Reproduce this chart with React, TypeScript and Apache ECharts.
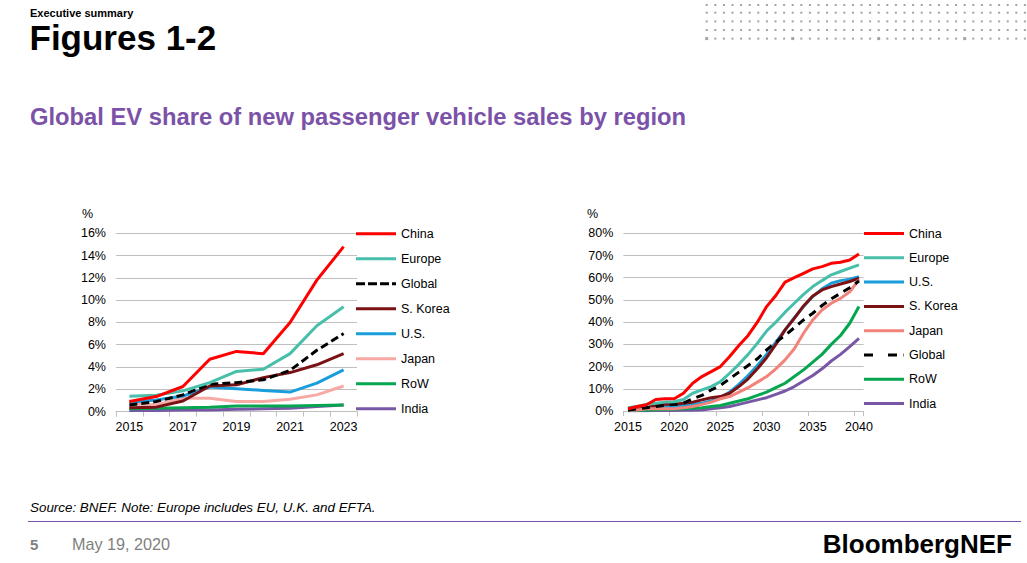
import React, { useEffect, useRef } from 'react';
import * as echarts from 'echarts';

const FONT = '"Liberation Sans", Arial, Helvetica, sans-serif';
const PURPLE = '#7b52a8';
const GRID = '#bfbfbf';

// ---------- Left chart (2015-2023) ----------
const yearsA = ['2015', '2016', '2017', '2018', '2019', '2020', '2021', '2022', '2023'];
const chinaA = [0.9, 1.35, 2.25, 4.7, 5.4, 5.2, 8.0, 11.8, 14.8];
const europeA = [1.38, 1.47, 1.86, 2.6, 3.6, 3.8, 5.2, 7.7, 9.4];
const globalA = [0.6, 0.9, 1.5, 2.45, 2.6, 2.85, 3.7, 5.5, 7.0];
const skoreaA = [0.35, 0.4, 0.95, 2.3, 2.4, 3.05, 3.5, 4.2, 5.2];
const usA = [0.84, 1.05, 1.4, 2.2, 2.05, 1.9, 1.75, 2.55, 3.75];
const japanA = [0.7, 0.6, 1.2, 1.2, 0.9, 0.9, 1.1, 1.5, 2.3];
const rowA = [0.25, 0.3, 0.35, 0.4, 0.5, 0.5, 0.5, 0.55, 0.6];
const indiaA = [0.1, 0.1, 0.15, 0.15, 0.2, 0.25, 0.3, 0.45, 0.6];
const legendA = ['China', 'Europe', 'Global', 'S. Korea', 'U.S.', 'Japan', 'RoW', 'India'];

// ---------- Right chart (2015-2040) ----------
const yearsB = ['2015', '2016', '2017', '2018', '2019', '2020', '2021', '2022', '2023', '2024', '2025', '2026', '2027',
  '2028', '2029', '2030', '2031', '2032', '2033', '2034', '2035', '2036', '2037', '2038', '2039', '2040'];
const chinaB = [1, 2, 2.8, 5.2, 5.5, 5.5, 8, 12.5, 15.5, 17.7, 20, 24.5, 29.5, 34, 40, 47, 52, 58, 60, 62, 64, 65, 66.5, 67, 68, 70.7];
const europeB = [1.5, 2, 3, 3.5, 4, 4.2, 5.2, 8, 9.5, 11, 13.2, 17, 21, 25.5, 30.5, 36, 40, 44.5, 48.5, 52.5, 56, 58.7, 61.3, 62.8, 64.3, 65.8];
const usB = [1, 1, 1.5, 2, 2, 2, 2.5, 3, 3.5, 4.5, 6, 8.5, 12, 16, 20.5, 25.5, 31, 36.5, 42, 47, 51.5, 55, 57.5, 58.7, 59.3, 60.5];
const skoreaB = [0.5, 1, 1.5, 2.5, 3, 3, 3.5, 4, 5, 6, 6.5, 8, 11, 14.5, 19, 24, 30, 36.5, 41.7, 47.3, 51.8, 54.5, 56, 57.2, 58.3, 59.8];
const japanB = [0.5, 0.5, 1, 1, 1, 1, 1.5, 2, 3, 4, 5.5, 6.5, 8.5, 10.5, 13, 15.5, 19, 23, 28, 35, 41, 45.5, 48.5, 50.7, 53.7, 59];
const globalB = [0.5, 1, 1.5, 2, 2.5, 3, 3.5, 5.5, 7, 9.5, 11.5, 14.5, 17.5, 20.5, 23.5, 27.5, 31, 34, 37.5, 41, 44, 47.5, 50.5, 53, 55.5, 58.5];
const rowB = [0.2, 0.3, 0.5, 0.6, 0.7, 0.8, 1, 1.2, 1.5, 2, 2.5, 3.5, 4.5, 5.5, 7, 8.5, 10.5, 12.5, 15.5, 18.5, 22, 25.5, 30, 34, 39.5, 47];
const indiaB = [0.1, 0.1, 0.1, 0.2, 0.2, 0.2, 0.3, 0.3, 0.5, 1, 1.5, 2, 3, 4, 5, 6, 7.5, 9, 11, 13.5, 16, 19, 22.5, 25.5, 29, 32.7];
const legendB = ['China', 'Europe', 'U.S.', 'S. Korea', 'Japan', 'Global', 'RoW', 'India'];

const COLORS = {
  China: '#ff0000',
  Europe: '#47bfaa',
  'S. Korea': '#7a1214',
  'U.S.': '#1a9edb',
  RoW: '#05a64f',
  India: '#7857a6',
  Global: '#000000',
};

// legend icons (40 x 3 boxes)
const ICON_SOLID = 'path://M0,0H40V3H0Z';
const ICON_DASH_A = 'path://M0,0H9V3H0Z M12,0H21V3H12Z M24,0H33V3H24Z M36,0H40V3H36Z';
const ICON_DASH_B = 'path://M0,0H9V3H0Z M24,0H33V3H24Z M39.5,0H40V3H39.5Z';

function line(name: string, data: number[], color: string, dash?: number[]) {
  return {
    type: 'line',
    name,
    data,
    symbol: 'none',
    smooth: false,
    lineStyle: { width: 3, color, type: dash ? dash : 'solid' },
    itemStyle: { color },
    emphasis: { disabled: true },
  };
}

function axisCommon(cats: string[], labelInterval: number, tickInterval: number) {
  return {
    type: 'category',
    data: cats,
    boundaryGap: true,
    axisLine: { show: true, lineStyle: { color: GRID, width: 1 } },
    axisTick: { show: true, length: 5, interval: tickInterval, lineStyle: { color: GRID } },
    axisLabel: { interval: labelInterval, fontFamily: FONT, fontSize: 12.5, color: '#000', margin: 9 },
    splitLine: { show: false },
  };
}

function yAxisCommon(max: number, interval: number) {
  return {
    type: 'value',
    min: 0,
    max,
    interval,
    axisLine: { show: false },
    axisTick: { show: false },
    axisLabel: { formatter: '{value}%', fontFamily: FONT, fontSize: 12.5, color: '#000', margin: 10 },
    splitLine: { show: true, lineStyle: { color: GRID, width: 1 } },
  };
}

function legendCommon(names: string[], left: number, top: number, gap: number, dashIcon: string) {
  return {
    orient: 'vertical',
    left,
    top,
    padding: 0,
    itemWidth: 40,
    itemHeight: 3,
    itemGap: gap,
    selectedMode: false,
    symbolKeepAspect: false,
    icon: ICON_SOLID,
    data: names.map((n) => (n === 'Global'
      ? { name: n, icon: dashIcon, itemStyle: { color: '#000' } }
      : { name: n, icon: ICON_SOLID })),
    itemStyle: { borderWidth: 0 },
    textStyle: { fontFamily: FONT, fontSize: 12.5, color: '#000', lineHeight: 14, padding: [0, 0, 0, 0] },
  };
}

function headerFooter() {
  const dots: any[] = [];
  const rowsY = [5, 12.7, 21.4, 30, 38.6];
  for (let c = 0; c < 38; c++) {
    const cx = 706.7 + c * 8.6;
    for (let r = 0; r < rowsY.length; r++) {
      const big = r === 4 && c % 10 === 0;
      const s = big ? 3 : 2;
      dots.push({
        type: 'rect',
        shape: { x: cx - s / 2, y: rowsY[r] - s / 2, width: s, height: s },
        style: { fill: '#a3a3a3' },
        silent: true,
      });
    }
  }
  return [
    { type: 'group', children: dots, silent: true },
    {
      type: 'text', x: 30, y: 13,
      style: { text: 'Executive summary', fontFamily: FONT, fontSize: 11, fontWeight: 'bold', fill: '#000', verticalAlign: 'middle' },
    },
    {
      type: 'text', x: 29.5, y: 37.5,
      style: { text: 'Figures 1-2', fontFamily: FONT, fontSize: 35, fontWeight: 'bold', fill: '#000', verticalAlign: 'middle' },
    },
    {
      type: 'text', x: 30, y: 116,
      style: { text: 'Global EV share of new passenger vehicle sales by region', fontFamily: FONT, fontSize: 23.75, fontWeight: 'bold', fill: PURPLE, verticalAlign: 'middle' },
    },
    {
      type: 'text', x: 82, y: 214,
      style: { text: '%', fontFamily: FONT, fontSize: 12.5, fill: '#000', verticalAlign: 'middle' },
    },
    {
      type: 'text', x: 587, y: 214,
      style: { text: '%', fontFamily: FONT, fontSize: 12.5, fill: '#000', verticalAlign: 'middle' },
    },
    {
      type: 'text', x: 30, y: 507,
      style: { text: 'Source: BNEF. Note: Europe includes EU, U.K. and EFTA.', fontFamily: FONT, fontSize: 13.4, fontStyle: 'italic', fill: '#000', verticalAlign: 'middle' },
    },
    {
      type: 'line',
      shape: { x1: 28, y1: 521.5, x2: 1021, y2: 521.5 },
      style: { stroke: PURPLE, lineWidth: 1 },
    },
    {
      type: 'text', x: 30, y: 544,
      style: { text: '5', fontFamily: FONT, fontSize: 15, fontWeight: 'bold', fill: '#7f7f7f', verticalAlign: 'middle' },
    },
    {
      type: 'text', x: 72, y: 544,
      style: { text: 'May 19, 2020', fontFamily: FONT, fontSize: 16.2, fill: '#7f7f7f', verticalAlign: 'middle' },
    },
    {
      type: 'text', x: 1012, y: 544,
      style: { text: 'BloombergNEF', fontFamily: FONT, fontSize: 26, fontWeight: 'bold', fill: '#000', align: 'right', verticalAlign: 'middle' },
    },
  ];
}

export default function App() {
  const refA = useRef<HTMLDivElement>(null);
  const refB = useRef<HTMLDivElement>(null);

  useEffect(() => {
    const chartA = echarts.init(refA.current!, undefined, { renderer: 'svg' });
    const chartB = echarts.init(refB.current!, undefined, { renderer: 'svg' });

    chartA.setOption({
      animation: false,
      backgroundColor: '#ffffff',
      textStyle: { fontFamily: FONT },
      graphic: headerFooter(),
      grid: { left: 116, top: 233.3, width: 241, height: 178.3, containLabel: false },
      xAxis: axisCommon(yearsA, 1, 0),
      yAxis: yAxisCommon(16, 2),
      legend: legendCommon(legendA, 356, 226.8, 11, ICON_DASH_A),
      series: [
        line('India', indiaA, COLORS.India),
        line('RoW', rowA, COLORS.RoW),
        line('Japan', japanA, '#f7aaa5'),
        line('U.S.', usA, COLORS['U.S.']),
        line('S. Korea', skoreaA, COLORS['S. Korea']),
        line('Global', globalA, COLORS.Global, [8, 4]),
        line('Europe', europeA, COLORS.Europe),
        line('China', chinaA, COLORS.China),
      ],
    });

    const offX = 520;
    chartB.setOption({
      animation: false,
      textStyle: { fontFamily: FONT },
      grid: { left: 623.4 - offX, top: 233.3, width: 240.2, height: 177.7, containLabel: false },
      xAxis: axisCommon(yearsB, 4, 4),
      yAxis: yAxisCommon(80, 10),
      legend: legendCommon(legendB, 864 - offX, 226.5, 10.3, ICON_DASH_B),
      series: [
        line('India', indiaB, COLORS.India),
        line('RoW', rowB, COLORS.RoW),
        line('U.S.', usB, COLORS['U.S.']),
        line('S. Korea', skoreaB, COLORS['S. Korea']),
        line('Japan', japanB, '#f2837b'),
        line('Global', globalB, COLORS.Global, [8, 6]),
        line('Europe', europeB, COLORS.Europe),
        line('China', chinaB, COLORS.China),
      ],
    });

    return () => {
      chartA.dispose();
      chartB.dispose();
    };
  }, []);

  return (
    <div style={{ position: 'fixed', left: 0, top: 0, width: 1027, height: 563, background: '#fff' }}>
      <div ref={refA} style={{ position: 'absolute', left: 0, top: 0, width: 1027, height: 563 }} />
      <div ref={refB} style={{ position: 'absolute', left: 520, top: 0, width: 507, height: 563 }} />
    </div>
  );
}
